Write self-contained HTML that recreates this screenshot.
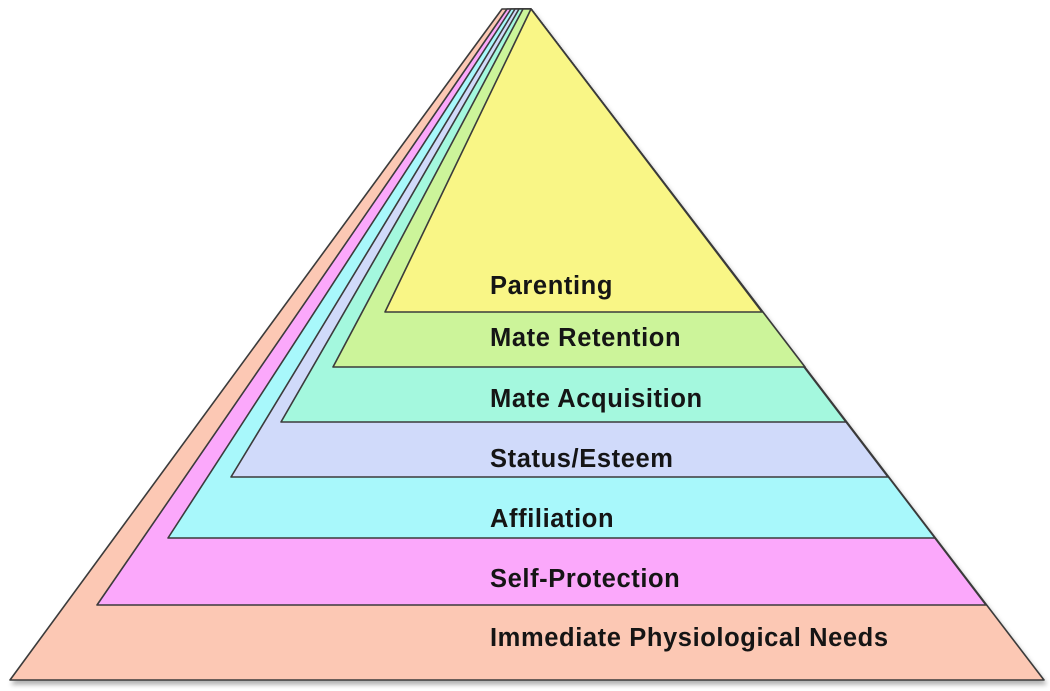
<!DOCTYPE html>
<html><head><style>
html,body{margin:0;padding:0;background:#fff;width:1050px;height:691px;overflow:hidden}
text{font-family:"Liberation Sans",sans-serif;font-weight:bold;font-size:25.5px;fill:#151515;letter-spacing:0.6px}
</style></head><body>
<svg width="1050" height="691" viewBox="0 0 1050 691">
<defs><filter id="s" x="-5%" y="-5%" width="110%" height="115%"><feDropShadow dx="2" dy="4" stdDeviation="2.5" flood-color="#000" flood-opacity="0.3"/></filter></defs>
<g stroke="#3a3a3a" stroke-width="1.6" stroke-linejoin="round" filter="url(#s)">
<polygon points="502,9 531,9 1044,680 10,680" fill="#fcc8b4"/>
<polygon points="507,9 531,9 986,605 97,605" fill="#fba8fb"/>
<polygon points="511,9 531,9 935,538 168,538" fill="#a8f8fb"/>
<polygon points="515,9 531,9 888,477 231,477" fill="#d0dafa"/>
<polygon points="519,9 531,9 846,422 281,422" fill="#a4f8de"/>
<polygon points="523,9 531,9 805,367 333,367" fill="#ccf49a"/>
<polygon points="531,9 531,9 762,312 385,312" fill="#f9f686"/>
</g>
<text x="490" y="294">Parenting</text>
<text x="490" y="346">Mate Retention</text>
<text x="490" y="407">Mate Acquisition</text>
<text x="490" y="467">Status/Esteem</text>
<text x="490" y="527">Affiliation</text>
<text x="490" y="587">Self-Protection</text>
<text x="490" y="646">Immediate Physiological Needs</text>
</svg>
</body></html>
